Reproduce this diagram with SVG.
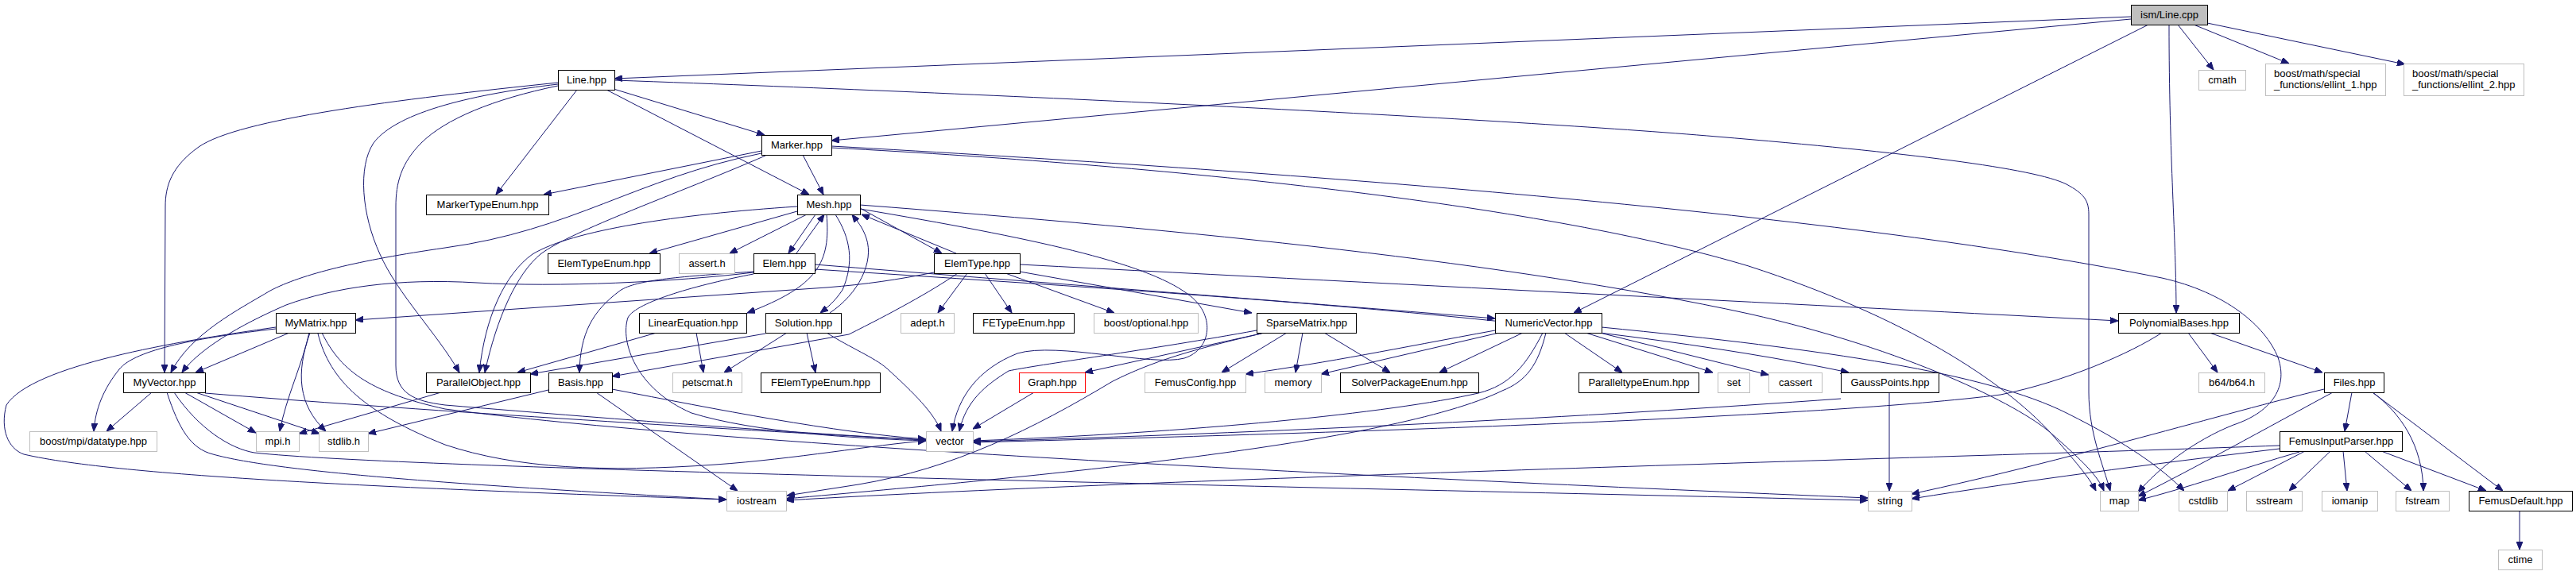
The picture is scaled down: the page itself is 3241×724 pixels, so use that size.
<svg xmlns="http://www.w3.org/2000/svg" width="3241" height="724" viewBox="0 0 3241 724">
<style>
.e{fill:none;stroke:#191970;stroke-width:1}
.n rect{fill:#fff;stroke:#000;stroke-width:1}
.u rect{fill:#fff;stroke:#bfbfbf;stroke-width:1}
.r rect{fill:#fff;stroke:#ff0000;stroke-width:1}
.root rect{fill:#bfbfbf;stroke:#000;stroke-width:1}
text{font-family:"Liberation Sans",Arial,sans-serif;font-size:13px;fill:#000;text-anchor:middle}
text.l{text-anchor:start}
</style>
<defs>
<marker id="a" markerUnits="userSpaceOnUse" markerWidth="10" markerHeight="8" refX="10" refY="4" orient="auto">
<path d="M0,0 L10,4 L0,8 z" fill="#191970" stroke="#191970"/>
</marker>
</defs>
<rect width="3241" height="724" fill="#fff"/>
<g id="edges" marker-end="url(#a)">
<path class="e" marker-end="url(#a)" d="M2681,21 L773,99"/>
<path class="e" marker-end="url(#a)" d="M2681,24 L1046,177"/>
<path class="e" marker-end="url(#a)" d="M2703,31 L1980,394"/>
<path class="e" marker-end="url(#a)" d="M2729,31 C2729,200 2738,300 2738,394"/>
<path class="e" marker-end="url(#a)" d="M2740,31 L2785,88"/>
<path class="e" marker-end="url(#a)" d="M2760,31 L2880,80"/>
<path class="e" marker-end="url(#a)" d="M2777,29 L3026,81"/>
<path class="e" marker-end="url(#a)" d="M772,112 L962,170"/>
<path class="e" marker-end="url(#a)" d="M763,113 L1018,245"/>
<path class="e" marker-end="url(#a)" d="M726,113 L624,245"/>
<path class="e" marker-end="url(#a)" d="M773,101 C1300,120 1900,150 2160,172 C2400,192 2560,212 2600,232 C2622,244 2628,252 2628,270 L2628,494 C2628,545 2646,585 2655,618"/>
<path class="e" marker-end="url(#a)" d="M702,104 C500,125 300,150 250,185 C215,210 208,235 208,260 L207,469"/>
<path class="e" marker-end="url(#a)" d="M702,106 C600,118 500,140 470,180 C450,210 455,270 478,320 C500,370 550,420 578,469"/>
<path class="e" marker-end="url(#a)" d="M702,108 C620,125 560,150 530,180 C505,205 498,230 498,260 L498,460 C498,495 520,505 560,510 C800,530 1000,545 1165,554"/>
<path class="e" marker-end="url(#a)" d="M1010,195 L1036,245"/>
<path class="e" marker-end="url(#a)" d="M958,190 L684,245"/>
<path class="e" marker-end="url(#a)" d="M963,196 C850,245 720,290 680,320 C650,345 625,400 610,469"/>
<path class="e" marker-end="url(#a)" d="M958,193 C800,225 720,290 560,312 C450,328 380,345 340,366 C300,390 240,420 215,469"/>
<path class="e" marker-end="url(#a)" d="M1046,186 C1500,210 1950,260 2200,335 C2400,400 2520,480 2580,545 C2610,580 2628,600 2637,618"/>
<path class="e" marker-end="url(#a)" d="M1046,184 C1600,215 2300,265 2720,350 C2800,368 2850,410 2866,450 C2880,490 2855,520 2810,535 C2760,555 2715,590 2690,620"/>
<path class="e" marker-end="url(#a)" d="M1003,266 L817,319"/>
<path class="e" marker-end="url(#a)" d="M1015,270 L918,319"/>
<path class="e" marker-end="url(#a)" d="M1026,270 L992,319"/>
<path class="e" marker-end="url(#a)" d="M1002,319 L1037,270"/>
<path class="e" marker-end="url(#a)" d="M1082,262 L1185,319"/>
<path class="e" marker-end="url(#a)" d="M1203,319 L1084,270"/>
<path class="e" marker-end="url(#a)" d="M1003,260 C850,270 720,290 670,320 C635,345 610,400 603,469"/>
<path class="e" marker-end="url(#a)" d="M1051,270 C1070,300 1075,330 1060,365 C1050,380 1040,388 1032,394"/>
<path class="e" marker-end="url(#a)" d="M1044,394 C1080,370 1100,330 1090,300 C1085,285 1078,278 1072,270"/>
<path class="e" marker-end="url(#a)" d="M1040,270 C1045,330 1030,360 940,394"/>
<path class="e" marker-end="url(#a)" d="M1082,263 C1300,300 1440,330 1494,370 C1530,395 1525,440 1490,451 C1450,462 1330,430 1280,445 C1230,465 1205,500 1198,543"/>
<path class="e" marker-end="url(#a)" d="M1082,258 C1500,290 1900,330 2200,395 C2400,440 2540,510 2580,545 C2620,580 2640,600 2647,618"/>
<path class="e" marker-end="url(#a)" d="M1175,343 C1130,352 1090,358 1040,362 L447,403"/>
<path class="e" marker-end="url(#a)" d="M948,343 C850,355 700,362 600,356 C500,350 420,362 360,384 C300,410 250,440 229,469"/>
<path class="e" marker-end="url(#a)" d="M948,342 C860,348 800,352 780,366 C745,392 730,420 729,469"/>
<path class="e" marker-end="url(#a)" d="M948,345 C880,358 800,380 790,400 C780,430 800,490 870,520 C950,545 1080,552 1165,555"/>
<path class="e" marker-end="url(#a)" d="M1025,333 C1300,355 1600,378 1881,401"/>
<path class="e" marker-end="url(#a)" d="M1283,333 C1800,360 2300,385 2665,404"/>
<path class="e" marker-end="url(#a)" d="M1025,339 C1500,370 2000,400 2326,469"/>
<path class="e" marker-end="url(#a)" d="M1217,344 L1180,394"/>
<path class="e" marker-end="url(#a)" d="M1239,344 L1273,394"/>
<path class="e" marker-end="url(#a)" d="M1265,344 L1402,394"/>
<path class="e" marker-end="url(#a)" d="M1283,342 L1575,394"/>
<path class="e" marker-end="url(#a)" d="M1205,344 C1170,368 1120,395 1068,421 L770,474"/>
<path class="e" marker-end="url(#a)" d="M963,420 L667,471"/>
<path class="e" marker-end="url(#a)" d="M990,419 L911,469"/>
<path class="e" marker-end="url(#a)" d="M1015,419 L1026,469"/>
<path class="e" marker-end="url(#a)" d="M1040,419 C1070,438 1100,450 1116,464 C1150,495 1175,520 1184,543"/>
<path class="e" marker-end="url(#a)" d="M826,419 L651,469"/>
<path class="e" marker-end="url(#a)" d="M876,419 L885,469"/>
<path class="e" marker-end="url(#a)" d="M1591,419 L1365,469"/>
<path class="e" marker-end="url(#a)" d="M1619,419 L1537,469"/>
<path class="e" marker-end="url(#a)" d="M1639,419 L1630,469"/>
<path class="e" marker-end="url(#a)" d="M1666,419 L1749,469"/>
<path class="e" marker-end="url(#a)" d="M1581,416 C1450,440 1300,460 1269,467 C1240,485 1215,505 1207,543"/>
<path class="e" marker-end="url(#a)" d="M1587,420 C1500,440 1450,455 1400,480 C1300,540 1200,590 1080,610 L990,624"/>
<path class="e" marker-end="url(#a)" d="M1301,494 L1224,540"/>
<path class="e" marker-end="url(#a)" d="M1886,419 L1662,471"/>
<path class="e" marker-end="url(#a)" d="M1881,416 C1750,440 1680,455 1567,471"/>
<path class="e" marker-end="url(#a)" d="M1916,419 L1811,469"/>
<path class="e" marker-end="url(#a)" d="M1968,419 L2041,469"/>
<path class="e" marker-end="url(#a)" d="M1995,419 L2155,469"/>
<path class="e" marker-end="url(#a)" d="M2009,418 L2225,472"/>
<path class="e" marker-end="url(#a)" d="M1941,419 C1920,460 1900,485 1860,495 C1750,520 1500,545 1224,555"/>
<path class="e" marker-end="url(#a)" d="M1945,419 C1935,460 1920,480 1890,492 C1750,560 1300,600 989,628"/>
<path class="e" marker-end="url(#a)" d="M2015,412 C2300,440 2500,470 2600,520 C2680,560 2720,590 2748,618"/>
<path class="e" marker-end="url(#a)" d="M2377,494 L2377,618"/>
<path class="e" marker-end="url(#a)" d="M2316,502 C2000,525 1600,545 1224,556"/>
<path class="e" marker-end="url(#a)" d="M2753,419 L2790,469"/>
<path class="e" marker-end="url(#a)" d="M2780,419 L2922,469"/>
<path class="e" marker-end="url(#a)" d="M2720,419 C2680,445 2600,480 2517,497 C2300,525 1700,545 1224,557"/>
<path class="e" marker-end="url(#a)" d="M2959,494 L2950,543"/>
<path class="e" marker-end="url(#a)" d="M2985,494 C3020,520 3048,560 3049,618"/>
<path class="e" marker-end="url(#a)" d="M2985,494 L3149,618"/>
<path class="e" marker-end="url(#a)" d="M2924,490 C2800,520 2600,580 2405,622"/>
<path class="e" marker-end="url(#a)" d="M2935,494 C2850,540 2760,590 2690,625"/>
<path class="e" marker-end="url(#a)" d="M2893,569 C2820,590 2750,615 2690,630"/>
<path class="e" marker-end="url(#a)" d="M2900,568 L2803,618"/>
<path class="e" marker-end="url(#a)" d="M2932,568 L2880,618"/>
<path class="e" marker-end="url(#a)" d="M2948,568 L2953,618"/>
<path class="e" marker-end="url(#a)" d="M2975,568 L3034,618"/>
<path class="e" marker-end="url(#a)" d="M2996,568 L3128,618"/>
<path class="e" marker-end="url(#a)" d="M2868,565 C2700,585 2550,605 2405,628"/>
<path class="e" marker-end="url(#a)" d="M2868,561 C2500,575 1500,600 989,630"/>
<path class="e" marker-end="url(#a)" d="M3170,643 L3170,692"/>
<path class="e" marker-end="url(#a)" d="M690,491 L463,546"/>
<path class="e" marker-end="url(#a)" d="M770,490 C900,515 1050,545 1165,553"/>
<path class="e" marker-end="url(#a)" d="M750,494 L928,618"/>
<path class="e" marker-end="url(#a)" d="M191,494 L134,543"/>
<path class="e" marker-end="url(#a)" d="M232,494 L322,545"/>
<path class="e" marker-end="url(#a)" d="M246,494 L402,546"/>
<path class="e" marker-end="url(#a)" d="M258,495 C500,515 900,540 1165,554"/>
<path class="e" marker-end="url(#a)" d="M210,494 C225,540 240,565 268,572 C350,595 600,612 914,629"/>
<path class="e" marker-end="url(#a)" d="M219,494 C250,540 290,565 320,570 C500,590 1500,610 2350,630"/>
<path class="e" marker-end="url(#a)" d="M364,419 L246,469"/>
<path class="e" marker-end="url(#a)" d="M347,414 C250,425 170,440 150,465 C130,490 120,515 118,543"/>
<path class="e" marker-end="url(#a)" d="M389,419 C380,460 360,500 352,543"/>
<path class="e" marker-end="url(#a)" d="M390,419 C372,470 375,510 410,543"/>
<path class="e" marker-end="url(#a)" d="M400,420 C415,480 460,520 560,560 C650,590 760,595 900,585 C1000,578 1100,560 1165,555"/>
<path class="e" marker-end="url(#a)" d="M405,419 C430,470 470,495 560,515 C900,560 1700,600 2350,627"/>
<path class="e" marker-end="url(#a)" d="M347,412 C220,430 40,460 8,510 C0,540 10,565 30,572 C150,600 500,615 914,629"/>
<path class="e" marker-end="url(#a)" d="M555,494 L376,546"/>
</g>
<g id="n-linecpp" class="root"><rect x="2681.5" y="6.5" width="96" height="25"/><text x="2729.5" y="23">ism/Line.cpp</text></g>
<g id="n-linehpp" class="n"><rect x="702.5" y="88.5" width="71" height="25"/><text x="738" y="105">Line.hpp</text></g>
<g id="n-cmath" class="u"><rect x="2766.5" y="88.5" width="59" height="25"/><text x="2796" y="105">cmath</text></g>
<g id="n-ellint1" class="u"><rect x="2850.5" y="80.5" width="151" height="40"/><text class="l" x="2861" y="97">boost/math/special</text><text class="l" x="2861" y="111">_functions/ellint_1.hpp</text></g>
<g id="n-ellint2" class="u"><rect x="3024.5" y="80.5" width="151" height="40"/><text class="l" x="3035" y="97">boost/math/special</text><text class="l" x="3035" y="111">_functions/ellint_2.hpp</text></g>
<g id="n-marker" class="n"><rect x="958.5" y="170.5" width="88" height="25"/><text x="1002.5" y="187">Marker.hpp</text></g>
<g id="n-markertypeenum" class="n"><rect x="536.5" y="245.5" width="154" height="25"/><text x="613.5" y="262">MarkerTypeEnum.hpp</text></g>
<g id="n-mesh" class="n"><rect x="1003.5" y="245.5" width="79" height="25"/><text x="1043" y="262">Mesh.hpp</text></g>
<g id="n-elemtypeenum" class="n"><rect x="689.5" y="319.5" width="141" height="25"/><text x="760" y="336">ElemTypeEnum.hpp</text></g>
<g id="n-assert" class="u"><rect x="854.5" y="319.5" width="70" height="25"/><text x="889.5" y="336">assert.h</text></g>
<g id="n-elem" class="n"><rect x="948.5" y="319.5" width="77" height="25"/><text x="987" y="336">Elem.hpp</text></g>
<g id="n-elemtype" class="n"><rect x="1175.5" y="319.5" width="108" height="25"/><text x="1229.5" y="336">ElemType.hpp</text></g>
<g id="n-mymatrix" class="n"><rect x="347.5" y="394.5" width="100" height="25"/><text x="397.5" y="411">MyMatrix.hpp</text></g>
<g id="n-linearequation" class="n"><rect x="804.5" y="394.5" width="135" height="25"/><text x="872" y="411">LinearEquation.hpp</text></g>
<g id="n-solution" class="n"><rect x="963.5" y="394.5" width="95" height="25"/><text x="1011" y="411">Solution.hpp</text></g>
<g id="n-adept" class="u"><rect x="1133.5" y="394.5" width="67" height="25"/><text x="1167" y="411">adept.h</text></g>
<g id="n-fetypeenum" class="n"><rect x="1224.5" y="394.5" width="127" height="25"/><text x="1288" y="411">FETypeEnum.hpp</text></g>
<g id="n-boostoptional" class="u"><rect x="1376.5" y="394.5" width="131" height="25"/><text x="1442" y="411">boost/optional.hpp</text></g>
<g id="n-sparsematrix" class="n"><rect x="1581.5" y="394.5" width="125" height="25"/><text x="1644" y="411">SparseMatrix.hpp</text></g>
<g id="n-numericvector" class="n"><rect x="1881.5" y="394.5" width="134" height="25"/><text x="1948.5" y="411">NumericVector.hpp</text></g>
<g id="n-polynomialbases" class="n"><rect x="2665.5" y="394.5" width="152" height="25"/><text x="2741.5" y="411">PolynomialBases.hpp</text></g>
<g id="n-myvector" class="n"><rect x="155.5" y="469.5" width="103" height="25"/><text x="207" y="486">MyVector.hpp</text></g>
<g id="n-parallelobject" class="n"><rect x="536.5" y="469.5" width="131" height="25"/><text x="602" y="486">ParallelObject.hpp</text></g>
<g id="n-basis" class="n"><rect x="690.5" y="469.5" width="80" height="25"/><text x="730.5" y="486">Basis.hpp</text></g>
<g id="n-petscmat" class="u"><rect x="846.5" y="469.5" width="87" height="25"/><text x="890" y="486">petscmat.h</text></g>
<g id="n-felemtypeenum" class="n"><rect x="957.5" y="469.5" width="150" height="25"/><text x="1032.5" y="486">FElemTypeEnum.hpp</text></g>
<g id="n-graph" class="r"><rect x="1282.5" y="469.5" width="83" height="25"/><text x="1324" y="486">Graph.hpp</text></g>
<g id="n-femusconfig" class="u"><rect x="1440.5" y="469.5" width="127" height="25"/><text x="1504" y="486">FemusConfig.hpp</text></g>
<g id="n-memory" class="u"><rect x="1591.5" y="469.5" width="71" height="25"/><text x="1627" y="486">memory</text></g>
<g id="n-solverpackageenum" class="n"><rect x="1686.5" y="469.5" width="174" height="25"/><text x="1773.5" y="486">SolverPackageEnum.hpp</text></g>
<g id="n-paralleltypeenum" class="n"><rect x="1986.5" y="469.5" width="151" height="25"/><text x="2062" y="486">ParalleltypeEnum.hpp</text></g>
<g id="n-set" class="u"><rect x="2161.5" y="469.5" width="40" height="25"/><text x="2181.5" y="486">set</text></g>
<g id="n-cassert" class="u"><rect x="2225.5" y="469.5" width="67" height="25"/><text x="2259" y="486">cassert</text></g>
<g id="n-gausspoints" class="n"><rect x="2316.5" y="469.5" width="123" height="25"/><text x="2378" y="486">GaussPoints.hpp</text></g>
<g id="n-b64" class="u"><rect x="2766.5" y="469.5" width="83" height="25"/><text x="2808" y="486">b64/b64.h</text></g>
<g id="n-files" class="n"><rect x="2924.5" y="469.5" width="75" height="25"/><text x="2962" y="486">Files.hpp</text></g>
<g id="n-datatype" class="u"><rect x="37.5" y="543.5" width="160" height="25"/><text x="117.5" y="560">boost/mpi/datatype.hpp</text></g>
<g id="n-mpi" class="u"><rect x="322.5" y="543.5" width="54" height="25"/><text x="349.5" y="560">mpi.h</text></g>
<g id="n-stdlib" class="u"><rect x="401.5" y="543.5" width="62" height="25"/><text x="432.5" y="560">stdlib.h</text></g>
<g id="n-vector" class="u"><rect x="1165.5" y="543.5" width="59" height="25"/><text x="1195" y="560">vector</text></g>
<g id="n-femusinputparser" class="n"><rect x="2868.5" y="543.5" width="154" height="25"/><text x="2945.5" y="560">FemusInputParser.hpp</text></g>
<g id="n-iostream" class="u"><rect x="914.5" y="618.5" width="75" height="25"/><text x="952" y="635">iostream</text></g>
<g id="n-string" class="u"><rect x="2350.5" y="618.5" width="55" height="25"/><text x="2378" y="635">string</text></g>
<g id="n-map" class="u"><rect x="2642.5" y="618.5" width="48" height="25"/><text x="2666.5" y="635">map</text></g>
<g id="n-cstdlib" class="u"><rect x="2741.5" y="618.5" width="61" height="25"/><text x="2772" y="635">cstdlib</text></g>
<g id="n-sstream" class="u"><rect x="2826.5" y="618.5" width="70" height="25"/><text x="2861.5" y="635">sstream</text></g>
<g id="n-iomanip" class="u"><rect x="2921.5" y="618.5" width="70" height="25"/><text x="2956.5" y="635">iomanip</text></g>
<g id="n-fstream" class="u"><rect x="3014.5" y="618.5" width="67" height="25"/><text x="3048" y="635">fstream</text></g>
<g id="n-femusdefault" class="n"><rect x="3106.5" y="618.5" width="130" height="25"/><text x="3171.5" y="635">FemusDefault.hpp</text></g>
<g id="n-ctime" class="u"><rect x="3143.5" y="692.5" width="55" height="25"/><text x="3171" y="709">ctime</text></g>
</svg>
